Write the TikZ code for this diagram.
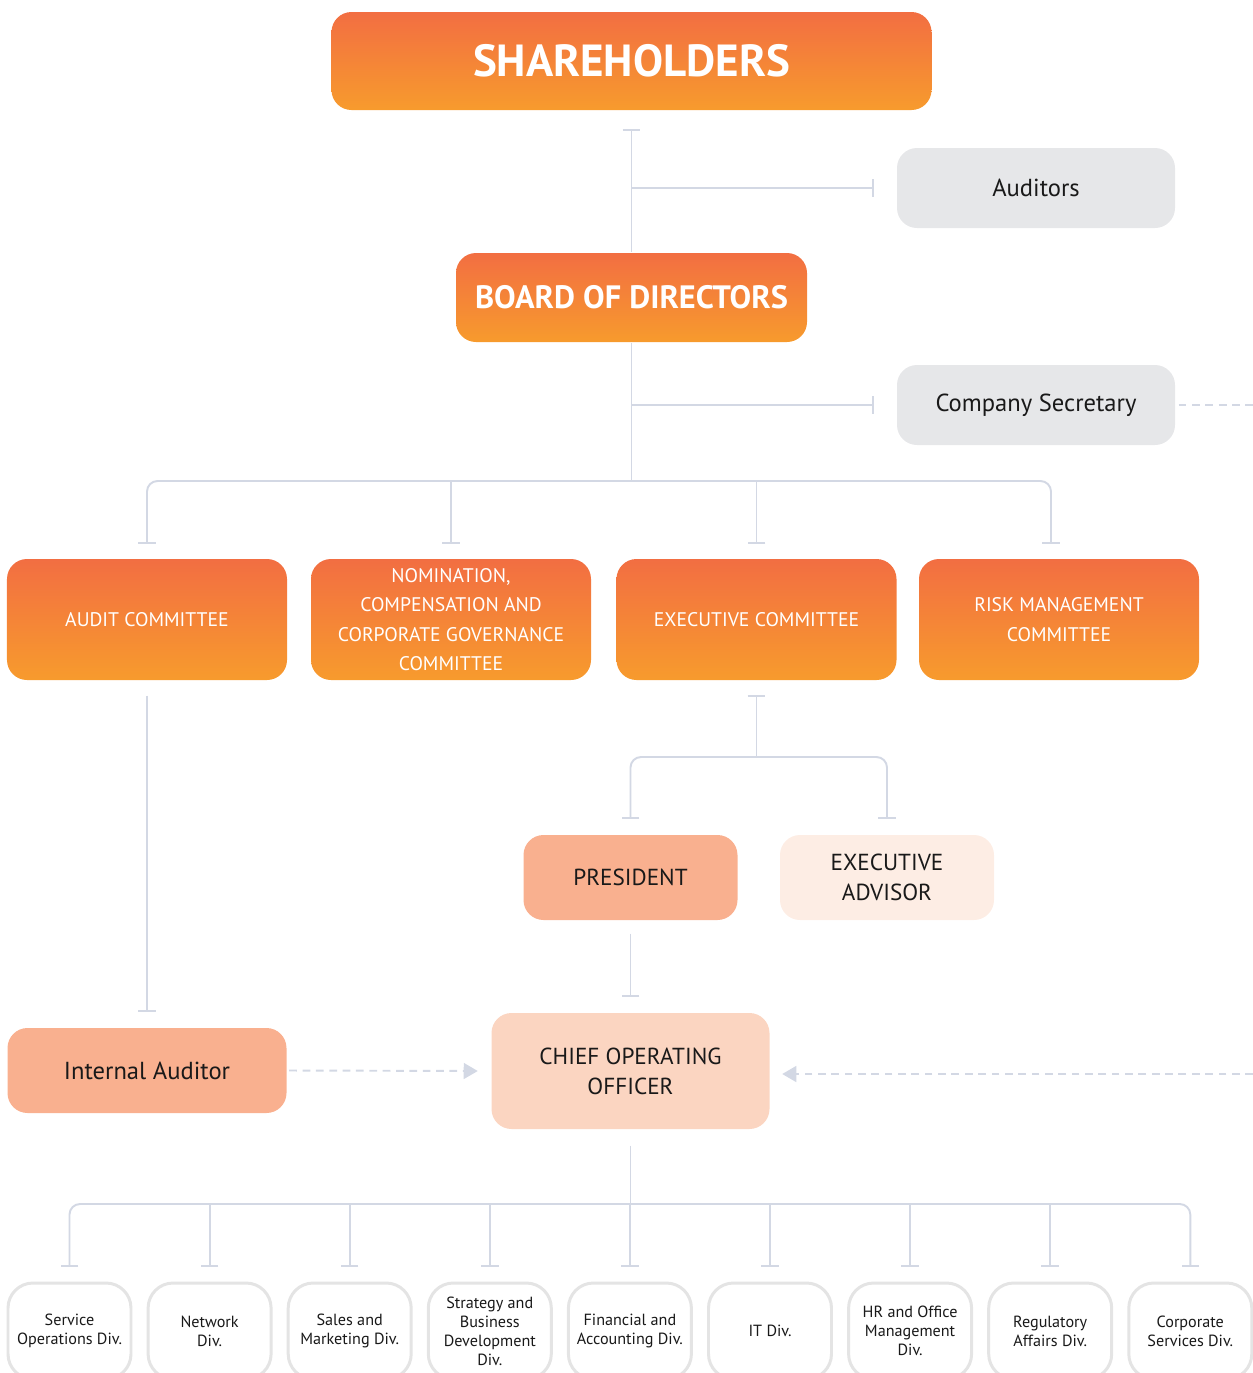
\documentclass[tikz,border=0pt]{standalone}
\usepackage{fontspec}
\setmainfont{PT Sans}
\usetikzlibrary{arrows.meta,shadings}

\definecolor{orTop}{HTML}{F26E42}
\definecolor{orBot}{HTML}{F79B2D}
\definecolor{boxGray}{HTML}{E6E7E9}
\definecolor{peach}{HTML}{F9B08F}
\definecolor{paleCoo}{HTML}{FBD5C1}
\definecolor{paleAdv}{HTML}{FDEDE4}
\definecolor{lineCol}{HTML}{D3D8E4}
\definecolor{divEdge}{HTML}{E4E4E4}

\tikzset{
  orangebox/.style={rounded corners=0.2cm, top color=orTop, bottom color=orBot,
    text=white, align=center, inner sep=0pt},
  graybox/.style={rounded corners=0.2cm, fill=boxGray, text=black!90,
    align=center, inner sep=0pt, minimum width=2.78cm, minimum height=0.8cm,
    font=\fontsize{7}{8.5}\selectfont},
  palebox/.style={rounded corners=0.2cm, text=black!90, align=center, inner sep=0pt,
    font=\fontsize{6.6}{8.5}\selectfont},
  cttbox/.style={orangebox, minimum width=2.8cm, minimum height=1.21cm,
    font=\fontsize{5.6}{8.4}\selectfont},
  divbox/.style={rounded corners=0.25cm, draw=divEdge, line width=0.85pt, fill=white,
    text=black!90, align=center, inner sep=0pt, minimum width=1.23cm,
    minimum height=0.96cm, font=\fontsize{4.6}{5.4}\selectfont},
  link/.style={draw=lineCol, line width=0.55pt},
  tee/.tip={Bar[width=5pt]},
  dashlink/.style={draw=lineCol, line width=0.55pt, dash pattern=on 2.2pt off 1.6pt},
}

\begin{document}
\begin{tikzpicture}
\clip (0,0) rectangle (12.53,-13.73);

% top of the chart
\node[orangebox, minimum width=6cm, minimum height=0.98cm,
  font=\fontsize{12.8}{14}\selectfont\bfseries] (sh) at (6.315,-0.61) {SHAREHOLDERS};
\node[graybox] (aud) at (10.36,-1.88) {Auditors};
\node[orangebox, minimum width=3.51cm, minimum height=0.89cm,
  font=\fontsize{9.2}{11}\selectfont\bfseries] (bod) at (6.315,-2.975) {BOARD OF DIRECTORS};
\node[graybox] (sec) at (10.36,-4.05) {Company Secretary};

% committees
\node[cttbox] (ac) at (1.47,-6.195) {AUDIT COMMITTEE};
\node[cttbox] (nc) at (4.51,-6.195) {NOMINATION,\\COMPENSATION AND\\CORPORATE GOVERNANCE\\COMMITTEE};
\node[cttbox] (ec) at (7.565,-6.195) {EXECUTIVE COMMITTEE};
\node[cttbox] (rc) at (10.59,-6.195) {RISK MANAGEMENT\\COMMITTEE};

% management
\node[palebox, fill=peach, minimum width=2.14cm, minimum height=0.85cm] (pres) at (6.305,-8.775) {PRESIDENT};
\node[palebox, fill=paleAdv, minimum width=2.14cm, minimum height=0.85cm] (adv) at (8.87,-8.775) {EXECUTIVE\\ADVISOR};
\node[palebox, fill=paleCoo, minimum width=2.78cm, minimum height=1.16cm] (coo) at (6.305,-10.71) {CHIEF OPERATING\\OFFICER};
\node[palebox, fill=peach, minimum width=2.79cm, minimum height=0.85cm,
  font=\fontsize{7}{8.5}\selectfont] (ia) at (1.47,-10.705) {Internal Auditor};

% divisions
\foreach \i/\t in {1/{Service\\Operations Div.}, 2/{Network\\Div.},
    3/{Sales and\\Marketing Div.}, 4/{Strategy and\\Business\\Development\\Div.},
    5/{Financial and\\Accounting Div.}, 6/{IT Div.}, 7/{HR and Office\\Management\\Div.},
    8/{Regulatory\\Affairs Div.}, 9/{Corporate\\Services Div.}}
  \node[divbox] (d\i) at ({0.695+1.401*(\i-1)},-13.31) {\t};

\coordinate (bus) at (6.315,-4.81);
\coordinate (exbus) at (ec.south |- 0,-7.57);
\coordinate (dbus) at (6.305,-12.04);
\coordinate (secout) at (12.53,-4.05);
\coordinate (rin) at (12.53,-10.74);

% lines from the top
\draw[link,{tee}-] ([yshift=-0.18cm]sh.south) -- (bod.north);
\draw[link,-{tee}] (sh.south |- aud.west) -- ([xshift=-0.22cm]aud.west);
\draw[link] (bod.south) -- (bus);
\draw[link,-{tee}] (bod.south |- sec.west) -- ([xshift=-0.22cm]sec.west);
\draw[dashlink] ([xshift=0.03cm]sec.east) -- (secout);

\draw[link,rounded corners=3pt,{tee}-{tee}] ([yshift=0.14cm]ac.north) |- (bus) -| ([xshift=-0.08cm,yshift=0.14cm]rc.north);
\foreach \n in {nc,ec}
  \draw[link,-{tee}] (\n.north |- bus) -- ([yshift=0.14cm]\n.north);

% audit and executive lines
\draw[link,-{tee}] ([yshift=-0.15cm]ac.south) -- ([yshift=0.15cm]ia.north);
\draw[link,{tee}-] ([yshift=-0.14cm]ec.south) -- (exbus);
\draw[link,rounded corners=3pt,{tee}-{tee}] ([yshift=0.15cm]pres.north) |- (exbus) -| ([yshift=0.15cm]adv.north);
\draw[link,-{tee}] ([yshift=-0.13cm]pres.south) -- ([yshift=0.15cm]coo.north);

\draw[dashlink,-{Triangle[length=4pt,width=4.5pt]}] ([xshift=0.02cm]ia.east) -- ([xshift=-0.13cm]coo.west);
\draw[dashlink,-{Triangle[length=4pt,width=4.5pt]}] (rin) -- ([xshift=0.12cm,yshift=-0.03cm]coo.east);

% divisions bus
\draw[link] ([yshift=-0.16cm]coo.south) -- (dbus);
\draw[link,rounded corners=3pt,{tee}-{tee}] ([yshift=0.15cm]d1.north) |- (dbus) -| ([yshift=0.15cm]d9.north);
\foreach \i in {2,...,8}
  \draw[link,-{tee}] (d\i.north |- dbus) -- ([yshift=0.15cm]d\i.north);
\end{tikzpicture}
\end{document}
